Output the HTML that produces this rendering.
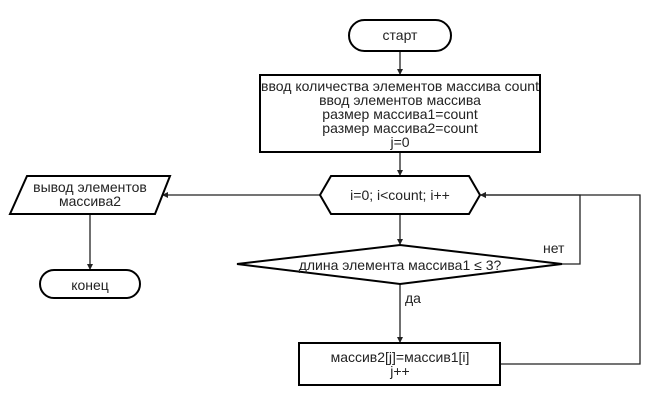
<!DOCTYPE html>
<html><head><meta charset="utf-8"><style>
html,body{margin:0;padding:0;background:#fff;}
svg{display:block;}
text{font-family:"Liberation Sans",sans-serif;font-size:14px;fill:#222;}
</style></head><body>
<svg width="660" height="405" viewBox="0 0 660 405" xmlns="http://www.w3.org/2000/svg">
<defs><marker id="a" markerWidth="6" markerHeight="6" refX="5" refY="3" orient="auto" markerUnits="userSpaceOnUse"><path d="M0,0 L6,3 L0,6 z" fill="#222"/></marker></defs>
<g fill="none" stroke="#222" stroke-width="1.3">
<line x1="400" y1="51" x2="400" y2="74" marker-end="url(#a)"/>
<line x1="400" y1="152" x2="400" y2="175" marker-end="url(#a)"/>
<line x1="400" y1="214" x2="400" y2="244" marker-end="url(#a)"/>
<line x1="400" y1="284" x2="400" y2="342" marker-end="url(#a)"/>
<polyline points="562,264 580,264 580,195 481,195" marker-end="url(#a)"/>
<polyline points="500,364 640,364 640,195 481,195" marker-end="url(#a)"/>
<line x1="320" y1="195" x2="163" y2="195" marker-end="url(#a)"/>
<line x1="90" y1="214" x2="90" y2="269" marker-end="url(#a)"/>
</g>
<g fill="#fff" stroke="#000" stroke-width="2">
<rect x="349" y="20" width="102" height="31" rx="15.5"/>
<rect x="260" y="75" width="280" height="77"/>
<polygon points="320,195 331,176 469,176 480,195 469,214 331,214"/>
<polygon points="237,264 400,245 562,264 400,284"/>
<rect x="299" y="343" width="201" height="42"/>
<polygon points="27,176 170,176 155,214 10,214"/>
<rect x="40" y="270" width="100" height="28" rx="14"/>
</g>
<g text-anchor="middle">
<text x="400" y="40">старт</text>
<text x="400" y="91" textLength="278" lengthAdjust="spacingAndGlyphs">ввод количества элементов массива count</text>
<text x="400" y="105">ввод элементов массива</text>
<text x="400" y="119">размер массива1=count</text>
<text x="400" y="133">размер массива2=count</text>
<text x="400" y="147">j=0</text>
<text x="400" y="200">i=0; i&lt;count; i++</text>
<text x="400" y="270">длина элемента массива1 ≤ 3?</text>
<text x="400" y="362">массив2[j]=массив1[i]</text>
<text x="400" y="376">j++</text>
<text x="90" y="192">вывод элементов</text>
<text x="90" y="206">массива2</text>
<text x="90" y="290">конец</text>
</g>
<text x="543" y="253">нет</text>
<text x="405" y="303">да</text>
</svg>
</body></html>
